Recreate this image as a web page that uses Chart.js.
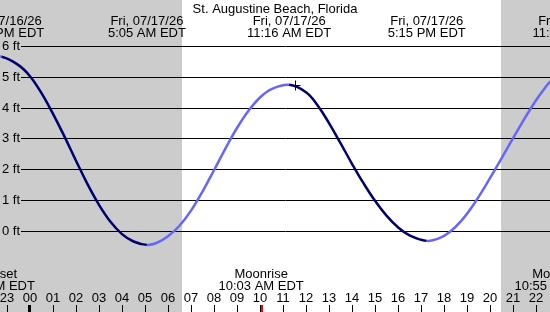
<!DOCTYPE html>
<html>
<head>
<meta charset="utf-8">
<script src="https://cdn.jsdelivr.net/npm/chart.js@4.4.1/dist/chart.umd.min.js"></script>
<style>
  html, body { margin: 0; padding: 0; background: #fff; }
  #tide { display: block; }
</style>
</head>
<body>
<canvas id="tide" width="550" height="312"></canvas>
<script>
// tide heights (ft), time in hours from midnight 07/17/26
const tideTimes = [-1.8, -1.235, -0.5, 0, 0.5, 1, 1.5, 2, 2.5, 3, 3.5, 4, 4.5, 5.083,
  5.5, 6, 6.5, 7, 7.5, 8, 8.5, 9, 9.5, 10, 10.5, 11.267,
  12, 12.5, 13, 13.5, 14, 14.5, 15, 15.5, 16, 16.5, 17.25,
  17.75, 18.25, 18.75, 19.25, 19.75, 20.25, 20.75, 21.25, 21.75, 22.25, 22.75, 23.68];
const tideHeights = [5.6, 5.65, 5.38, 5.02, 4.47, 3.8, 3.06, 2.28, 1.52, 0.85, 0.3, -0.1, -0.34, -0.45,
  -0.39, -0.17, 0.17, 0.66, 1.28, 1.97, 2.68, 3.34, 3.9, 4.33, 4.6, 4.74,
  4.5, 4.08, 3.5, 2.85, 2.18, 1.55, 0.98, 0.5, 0.12, -0.14, -0.32,
  -0.25, -0.03, 0.33, 0.82, 1.4, 2.03, 2.68, 3.33, 3.95, 4.5, 4.93, 5.22];

const stationName = "St. Augustine Beach, Florida";
const extremeTimes = [-1.235, 5.083, 11.267, 17.25, 23.68];
const extremeDates = ["Thu, 07/16/26", "Fri, 07/17/26", "Fri, 07/17/26", "Fri, 07/17/26", "Fri, 07/17/26"];
const extremeClock = ["10:46 PM EDT", "5:05 AM EDT", "11:16 AM EDT", "5:15 PM EDT", "11:41 PM EDT"];

const moonTimes = [-1.64, 10.05, 22.917];
const moonNames = ["Moonset", "Moonrise", "Moonset"];
const moonClock = ["10:22 PM EDT", "10:03 AM EDT", "10:55 PM EDT"];

const sunrise = 6.61;
const sunset = 20.48;
const markTime = 11.54;
const markHeight = 4.72;

const depthTicks = [0, 1, 2, 3, 4, 5, 6];
const depthLabels = ["0 ft", "1 ft", "2 ft", "3 ft", "4 ft", "5 ft", "6 ft"];
const hourTicks = [-1, 0, 1, 2, 3, 4, 5, 6, 7, 8, 9, 10, 11, 12, 13, 14, 15, 16, 17, 18, 19, 20, 21, 22];
const hourLabels = ["23", "00", "01", "02", "03", "04", "05", "06", "07", "08", "09", "10",
  "11", "12", "13", "14", "15", "16", "17", "18", "19", "20", "21", "22"];

const FONT = "13px 'Liberation Sans', Arial, sans-serif";
const FALLING = "#000070";
const RISING = "#6666ff";

const tidePlugin = {
  id: "tidePlugin",
  beforeDraw(chart) {
    const ctx = chart.ctx;
    const x = chart.scales.x;
    const y = chart.scales.y;
    ctx.save();
    ctx.fillStyle = "#cccccc";
    ctx.fillRect(0, 0, chart.width, chart.height);
    ctx.fillStyle = "#ffffff";
    const x0 = Math.round(x.getPixelForValue(sunrise));
    const x1 = Math.round(x.getPixelForValue(sunset));
    ctx.fillRect(x0, 0, x1 - x0, chart.height);

    // depth lines
    ctx.strokeStyle = "#000";
    ctx.lineWidth = 1;
    ctx.font = FONT;
    ctx.fillStyle = "#000";
    ctx.textAlign = "right";
    ctx.textBaseline = "middle";
    depthTicks.forEach((d, i) => {
      const py = Math.round(y.getPixelForValue(d)) + 0.5;
      ctx.beginPath();
      ctx.moveTo(21, py);
      ctx.lineTo(chart.width, py);
      ctx.stroke();
      ctx.fillText(depthLabels[i], 20, py);
    });
    ctx.restore();
  },
  afterDatasetsDraw(chart) {
    const ctx = chart.ctx;
    const x = chart.scales.x;
    const y = chart.scales.y;
    ctx.save();
    ctx.font = FONT;
    ctx.fillStyle = "#000";
    ctx.textAlign = "center";
    ctx.textBaseline = "alphabetic";

    ctx.fillText(stationName, chart.width / 2, 13);
    extremeTimes.forEach((t, i) => {
      const px = x.getPixelForValue(t);
      ctx.fillText(extremeDates[i], px, 25);
      ctx.fillText(extremeClock[i], px, 37);
    });

    moonTimes.forEach((t, i) => {
      const px = x.getPixelForValue(t);
      ctx.fillText(moonNames[i], px, 278);
      ctx.fillText(moonClock[i], px, 290);
    });

    hourTicks.forEach((h, i) => {
      const px = Math.round(x.getPixelForValue(h));
      ctx.fillText(hourLabels[i], px, 302);
      if (h === 0) {
        ctx.fillRect(px - 2, 305, 3, 7);
      } else {
        ctx.fillRect(px, 305, 1, 7);
      }
    });

    // moonrise tick
    ctx.fillStyle = "#ff0000";
    const mx = Math.round(x.getPixelForValue(moonTimes[1]));
    ctx.fillRect(mx, 305, 2, 7);

    // cross mark
    const cx = Math.round(x.getPixelForValue(markTime)) + 0.5;
    const cy = Math.round(y.getPixelForValue(markHeight)) + 0.5;
    ctx.strokeStyle = "#000";
    ctx.lineWidth = 1;
    ctx.beginPath();
    ctx.moveTo(cx - 5, cy);
    ctx.lineTo(cx + 5, cy);
    ctx.moveTo(cx, cy - 5);
    ctx.lineTo(cx, cy + 5);
    ctx.stroke();
    ctx.restore();
  }
};

new Chart(document.getElementById("tide"), {
  type: "line",
  data: {
    datasets: [{
      data: tideTimes.map((t, i) => ({ x: t, y: tideHeights[i] })),
      borderWidth: 2.5,
      borderColor: RISING,
      pointRadius: 0,
      fill: false,
      tension: 0.4,
      segment: {
        borderColor: (c) => (c.p1.parsed.y < c.p0.parsed.y ? FALLING : RISING)
      }
    }]
  },
  options: {
    responsive: false,
    animation: false,
    devicePixelRatio: 1,
    layout: { padding: 0, autoPadding: false },
    plugins: { legend: { display: false }, tooltip: { enabled: false } },
    events: [],
    scales: {
      x: { type: "linear", display: false, min: -30 / 23, max: 520 / 23 },
      y: { type: "linear", display: false, min: -81 / (185 / 6), max: 6 + 46 / (185 / 6) }
    }
  },
  plugins: [tidePlugin]
});
</script>
</body>
</html>
